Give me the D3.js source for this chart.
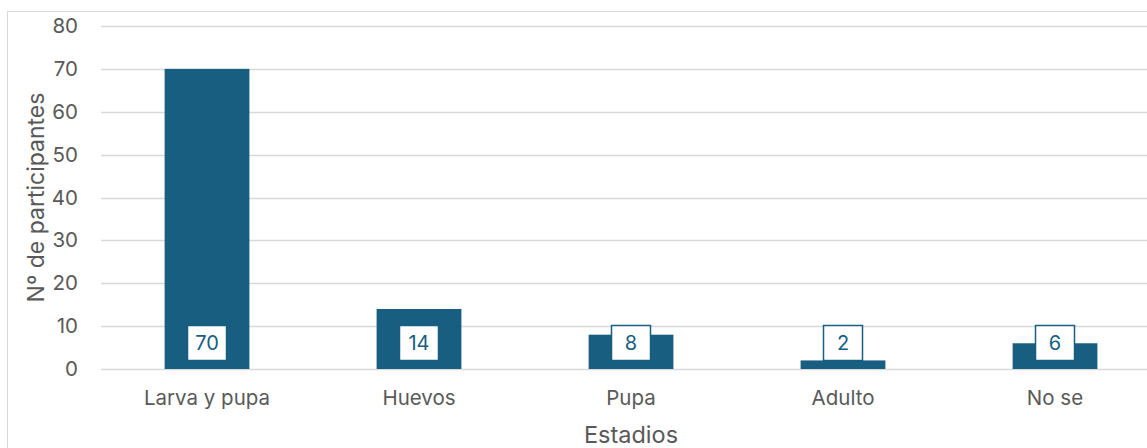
<!DOCTYPE html>
<html>
<head>
<meta charset="utf-8">
<script src="https://cdn.jsdelivr.net/npm/d3@7"></script>
<style>
  html, body { margin: 0; padding: 0; background: #fff; }
  svg { display: block; font-family: Inter, "Open Sans", sans-serif; }
</style>
</head>
<body>
<svg id="chart" width="1147" height="448"></svg>
<script>
// Stages and number of participants
const categories = ["Larva y pupa", "Huevos", "Pupa", "Adulto", "No se"];
const participants = [70, 14, 8, 2, 6];
const yTicks = [0, 10, 20, 30, 40, 50, 60, 70, 80];
const yTitle = "Nº de participantes";
const xTitle = "Estadios";

const svg = d3.select("#chart");
const W = 1147, H = 448;
const plotLeft = 101, plotRight = 1161, plotTop = 26, plotBottom = 369;
const barColor = "#175e80";
const textGray = "#595959";
const fontFamily = "Inter, 'Open Sans', sans-serif";

// chart frame
svg.append("rect")
  .attr("x", 7.5).attr("y", 11.5)
  .attr("width", W + 10).attr("height", H + 10)
  .attr("fill", "#fff").attr("stroke", "#d9d9d9").attr("stroke-width", 1);

const x = d3.scaleBand().domain(categories).range([plotLeft, plotRight])
  .paddingInner(0.6).paddingOuter(0.3);
const y = d3.scaleLinear().domain([0, 80]).range([plotBottom, plotTop]);

// horizontal gridlines
svg.append("g").selectAll("line").data(yTicks).join("line")
  .attr("x1", plotLeft).attr("x2", W)
  .attr("y1", d => Math.round(y(d)) + 0.5).attr("y2", d => Math.round(y(d)) + 0.5)
  .attr("stroke", "#d9d9d9").attr("stroke-width", 1.5);

// y axis tick labels
const yAxis = d3.axisLeft(y).tickValues(yTicks).tickSize(0).tickPadding(0);
const gy = svg.append("g").attr("transform", `translate(78,0)`).call(yAxis);
gy.select(".domain").remove();
gy.selectAll("text").attr("fill", textGray).attr("font-size", 20.5)
  .attr("font-family", fontFamily);

// bars
svg.append("g").selectAll("rect").data(categories).join("rect")
  .attr("x", d => x(d)).attr("width", x.bandwidth())
  .attr("y", (d, i) => y(participants[i]))
  .attr("height", (d, i) => y(0) - y(participants[i]))
  .attr("fill", barColor);

// x axis category labels
const xAxis = d3.axisBottom(x).tickSize(0).tickPadding(0);
const gx = svg.append("g").attr("transform", `translate(0,${plotBottom + 21})`).call(xAxis);
gx.select(".domain").remove();
gx.selectAll("text").attr("fill", textGray).attr("font-size", 20.5)
  .attr("font-family", fontFamily);

// value labels at the base of each bar
const boxW = 40, boxH = 36;
const labels = svg.append("g").selectAll("g").data(categories).join("g")
  .attr("transform", d => `translate(${x(d) + x.bandwidth() / 2},${y(0) - 8 - boxH / 2})`);
labels.append("rect")
  .attr("x", -boxW / 2 + 0.5).attr("y", -boxH / 2 + 0.5)
  .attr("width", boxW - 1).attr("height", boxH - 1)
  .attr("fill", "#fff").attr("stroke", barColor).attr("stroke-width", 1.5);
labels.append("text")
  .attr("text-anchor", "middle").attr("dy", "0.36em")
  .attr("font-size", 20).attr("fill", barColor)
  .text((d, i) => participants[i]);

// axis titles
svg.append("text")
  .attr("transform", `translate(44,${(plotTop + plotBottom) / 2}) rotate(-90)`)
  .attr("text-anchor", "middle").attr("font-size", 23).attr("fill", textGray)
  .text(yTitle);
svg.append("text")
  .attr("x", 631).attr("y", 443)
  .attr("text-anchor", "middle").attr("font-size", 23.5).attr("fill", textGray)
  .text(xTitle);
</script>
</body>
</html>
